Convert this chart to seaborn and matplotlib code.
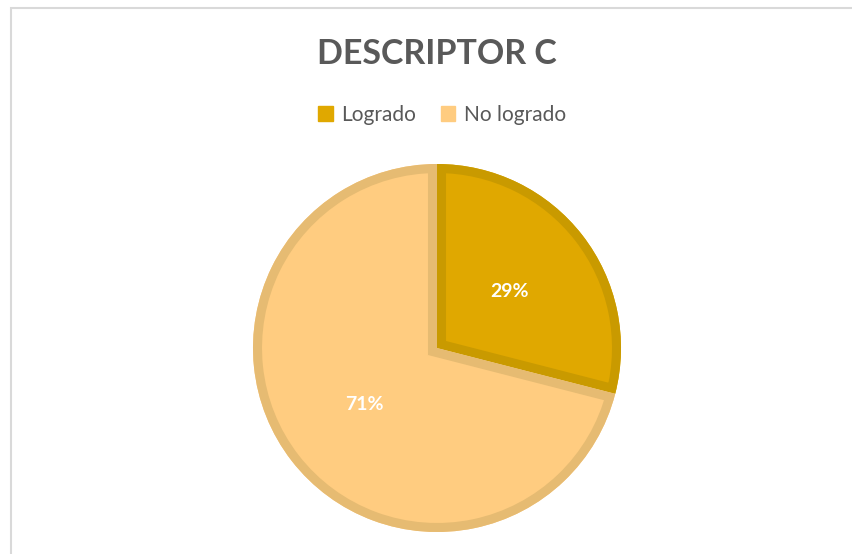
import matplotlib
matplotlib.use("Agg")
import matplotlib.pyplot as plt
import seaborn as sns
from matplotlib.patches import Rectangle, Wedge

labels = ["Logrado", "No logrado"]
values = [29, 71]
colors = ["#E0A800", "#FFCC80"]
edge_colors = ["#C99A00", "#E6BB72"]
title = "DESCRIPTOR C"

sns.set_theme(style="white")
plt.rcParams['font.family'] = ['Lato', 'DejaVu Sans']

fig = plt.figure(figsize=(8.52, 5.54), dpi=100)

# chart frame (light grey border, runs off the right/bottom edges)
fig.add_artist(Rectangle((11 / 852, -0.1), 1.0, 1 - 8 / 554 + 0.1,
                         transform=fig.transFigure, fill=False,
                         edgecolor="#D9D9D9", linewidth=1.5))

ax = fig.add_axes([(437 - 184) / 852, (554 - 348 - 184) / 554, 368 / 852, 368 / 554])
wedges, texts, autotexts = ax.pie(values, colors=colors, startangle=90, counterclock=False,
                                  autopct='%1.0f%%', pctdistance=0.5,
                                  wedgeprops=dict(linewidth=0))
# inner stroke: outline copies clipped to each wedge
for w, ec in zip(wedges, edge_colors):
    outline = Wedge(w.center, w.r, w.theta1, w.theta2, facecolor="none",
                    edgecolor=ec, linewidth=13, zorder=w.get_zorder() + 0.5)
    ax.add_patch(outline)
    outline.set_clip_path(w)
for t in autotexts:
    t.set_color("white")
    t.set_fontweight("bold")
    t.set_fontsize(14)
    t.set_zorder(5)
ax.set_xlim(-1, 1)
ax.set_ylim(-1, 1)
ax.set_aspect("equal")

fig.text(437 / 852, 1 - 54 / 554, title, ha="center", va="center",
         fontsize=24.5, fontweight="bold", color="#595959")

handles = [Rectangle((0, 0), 1, 1, facecolor=c, edgecolor=c) for c in colors]
fig.legend(handles, labels, loc="center", bbox_to_anchor=(442 / 852, 1 - 115 / 554),
           ncol=2, frameon=False, fontsize=15, handlelength=0.7, handleheight=0.7,
           handletextpad=0.4, columnspacing=1.2, labelcolor="#595959")

fig.savefig("out.png", dpi=100)
